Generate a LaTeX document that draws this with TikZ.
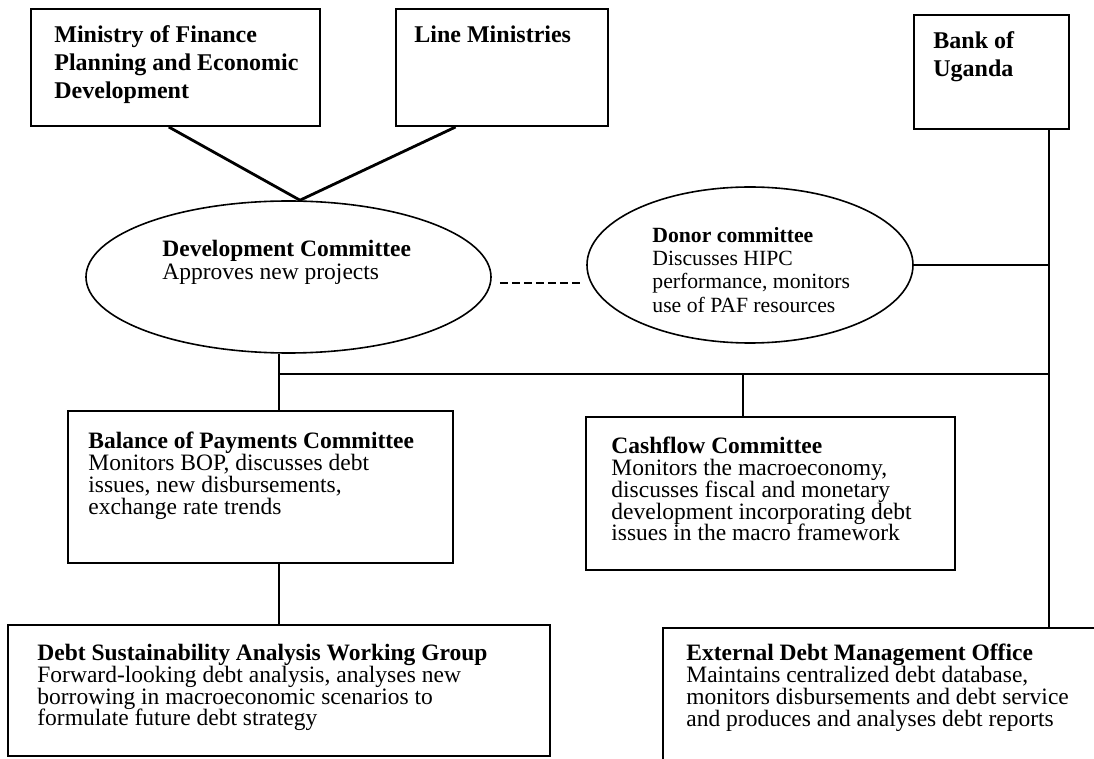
\documentclass[tikz,border=0pt]{standalone}
\usepackage{fontspec}
\setmainfont{Liberation Serif}
\usetikzlibrary{shapes.geometric}
\usetikzlibrary{calc}
\setlength{\lineskiplimit}{-10pt}
\tikzset{
box/.style={draw, rectangle, line width=1pt, inner sep=0pt},
oval/.style={draw, ellipse, line width=0.8pt, inner sep=0pt},
txt/.style={anchor=north west, inner sep=0pt, align=left,
  font=\fontsize{11.75}{10.85}\selectfont},
toptxt/.style={txt, font=\bfseries\fontsize{12}{14}\selectfont},
ovaltxt/.style={txt, font=\fontsize{11.75}{11.6}\selectfont},
smalltxt/.style={txt, font=\fontsize{10.85}{11.6}\selectfont},
link/.style={line width=1pt},
%dashed link between the two committees
dots/.style={line width=1.3pt, dash pattern=on 4pt off 2pt},
}

\begin{document}
\begin{tikzpicture}[x=0.5pt,y=-0.5pt]
\clip (0,0) rectangle (1094,759);
% the boxes
\node[box, minimum width=144.5pt, minimum height=58.5pt] (mof) at (175.5,67.5) {};
\node[box, minimum width=106pt, minimum height=58.5pt] (lm) at (502,67.5) {};
\node[box, minimum width=77.5pt, minimum height=57pt] (bank) at (991.5,72) {};
\node[oval, minimum width=202.5pt, minimum height=76pt] (dev) at (288.5,277) {};
\node[oval, minimum width=163pt, minimum height=78pt] (donor) at (750,265) {};
\node[box, minimum width=192.5pt, minimum height=76pt] (bop) at (260.5,487) {};
\node[box, minimum width=184.5pt, minimum height=76.5pt] (cash) at (770.5,493.5) {};
\node[box, minimum width=271pt, minimum height=65.5pt] (dsa) at (279,690.5) {};
\node[box, minimum width=223.5pt, minimum height=81pt] (edmo) at (886.5,709) {};
% the texts
\node[toptxt] (moftxt) at (54,25) {Ministry of Finance\\Planning and Economic\\Development};
\node[toptxt] (lmtxt) at (414,25) {Line Ministries};
\node[toptxt] (banktxt) at (933,31) {Bank of\\Uganda};
\node[ovaltxt] (devtxt) at (162,240) {\textbf{Development Committee}\\Approves new projects};
\node[smalltxt] (donortxt) at (652,227) {\textbf{Donor committee}\\Discusses HIPC\\performance, monitors\\use of PAF resources};
\node[txt] (boptxt) at (88,432) {\textbf{Balance of Payments Committee}\\Monitors BOP, discusses debt\\issues, new disbursements,\\exchange rate trends};
\node[txt] (cashtxt) at (611,437) {\textbf{Cashflow Committee}\\Monitors the macroeconomy,\\discusses fiscal and monetary\\development incorporating debt\\issues in the macro framework};
\node[txt] (dsatxt) at (37,644) {\textbf{Debt Sustainability Analysis Working Group}\\Forward-looking debt analysis, analyses new\\borrowing in macroeconomic scenarios to\\formulate future debt strategy};
\node[txt] (edmotxt) at (686,644) {\textbf{External Debt Management Office}\\Maintains centralized debt database,\\monitors disbursements and debt service\\and produces and analyses debt reports};
% the connectors
\coordinate (meet) at ([xshift=5.75pt]dev.north);
\draw[line width=1.4pt] ($(mof.south west)!0.477!(mof.south east)$) -- (meet)
  -- ($(lm.south west)!0.283!(lm.south east)$);
\draw[dots, shorten <=4pt, shorten >=2.5pt] ([yshift=-3pt]dev.east) -- ([yshift=-3pt]dev.east -| donor.west);
\coordinate (bankdrop) at ($(bank.south west)!0.865!(bank.south east)$);
\draw[link] (bankdrop) -- (bankdrop |- edmo.north);
\draw[link] (donor.east) -- (donor.east -| bankdrop);
\coordinate (trunk) at ([xshift=-4.75pt]dev.south);
\coordinate (fork) at ([yshift=-10pt]trunk);
\draw[link] (trunk) -- (trunk |- bop.north);
\draw[link] (fork) -- (fork -| bankdrop);
\coordinate (cashtop) at ($(cash.north west)!0.425!(cash.north east)$);
\draw[link] (cashtop |- fork) -- (cashtop);
\draw[link] (trunk |- bop.south) -- (trunk |- dsa.north);
\end{tikzpicture}
\end{document}
